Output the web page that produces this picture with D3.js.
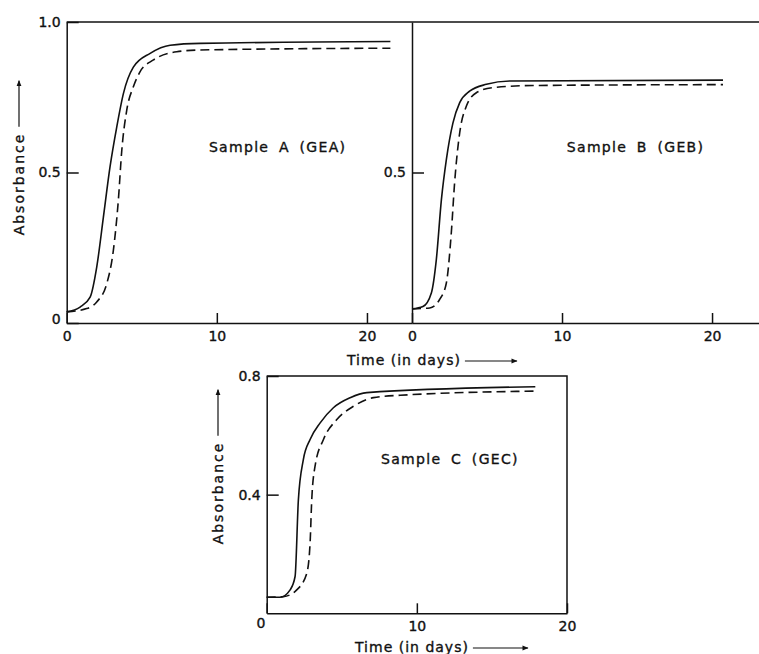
<!DOCTYPE html>
<html>
<head>
<meta charset="utf-8">
<script src="https://cdn.jsdelivr.net/npm/d3@7"></script>
<style>
  body { margin: 0; background: #fff; }
  text { font-family: "DejaVu Sans", sans-serif; fill: #111; stroke: #111; stroke-width: 0.35px; }
</style>
</head>
<body>
<div id="chart"></div>
<script>
// Sample A (GEA)
var timeA_solid = [0, 0.89, 1.56, 2.0, 2.44, 2.89, 3.33, 3.78, 4.44, 5.56, 6.89, 8.89, 21.56];
var absA_solid  = [0.037, 0.053, 0.086, 0.186, 0.35, 0.52, 0.65, 0.763, 0.85, 0.896, 0.923, 0.929, 0.935];
var timeA_dash  = [0, 1.33, 2.0, 2.67, 3.11, 3.44, 3.67, 4.0, 4.44, 4.89, 5.78, 7.33, 8.89, 21.56];
var absA_dash   = [0.037, 0.048, 0.07, 0.131, 0.242, 0.408, 0.574, 0.707, 0.785, 0.835, 0.874, 0.901, 0.907, 0.913];

// Sample B (GEB)
var timeB_solid = [0, 0.73, 1.29, 1.62, 1.96, 2.29, 2.73, 3.18, 3.84, 4.96, 6.51, 20.73];
var absB_solid  = [0.047, 0.055, 0.1, 0.21, 0.41, 0.543, 0.665, 0.732, 0.77, 0.793, 0.804, 0.807];
var timeB_dash  = [0, 1.18, 1.84, 2.29, 2.62, 2.84, 3.18, 3.62, 4.29, 5.4, 8.07, 20.73];
var absB_dash   = [0.047, 0.05, 0.078, 0.133, 0.3, 0.466, 0.632, 0.72, 0.765, 0.782, 0.789, 0.792];

// Sample C (GEC)
var timeC_solid = [0, 0.89, 1.56, 1.89, 2.11, 2.44, 2.89, 3.56, 4.44, 5.56, 6.67, 17.89];
var absC_solid  = [0.054, 0.054, 0.079, 0.124, 0.383, 0.518, 0.586, 0.642, 0.693, 0.727, 0.744, 0.764];
var timeC_dash  = [0, 1.11, 2.0, 2.67, 2.89, 3.0, 3.22, 3.78, 4.67, 5.78, 7.11, 8.89, 17.89];
var absC_dash   = [0.054, 0.056, 0.079, 0.135, 0.237, 0.383, 0.496, 0.586, 0.653, 0.698, 0.727, 0.735, 0.749];

var xTicks = [0, 10, 20];
var yTicksAB = [0, 0.5, 1.0];
var yTicksC = [0.4, 0.8];

var W = 759, H = 654;

var svg = d3.select("#chart")
    .append("svg")
    .attr("width", W)
    .attr("height", H);

var defs = svg.append("defs");
defs.append("marker")
    .attr("id", "arrow")
    .attr("viewBox", "0 0 10 10")
    .attr("refX", 9)
    .attr("refY", 5)
    .attr("markerWidth", 10)
    .attr("markerHeight", 6)
    .attr("markerUnits", "userSpaceOnUse")
    .attr("orient", "auto")
    .append("path")
    .attr("d", "M0,1 L10,5 L0,9 Z")
    .style("fill", "#111");

function zip(ts, vs) {
    return ts.map(function(t, i) { return [t, vs[i]]; });
}

function drawCurve(g, x, y, ts, vs, dashed) {
    var line = d3.line()
        .x(function(d) { return x(d[0]); })
        .y(function(d) { return y(d[1]); })
        .curve(d3.curveMonotoneX);
    g.append("path")
        .attr("d", line(zip(ts, vs)))
        .style("fill", "none")
        .style("stroke", "#111")
        .style("stroke-width", 1.6)
        .style("stroke-dasharray", dashed ? "9,5" : null);
}

function styleAxis(g) {
    g.selectAll("path, line")
        .style("stroke", "#111")
        .style("stroke-width", 1.5);
    g.selectAll("text")
        .style("font-family", "DejaVu Sans")
        .style("font-size", "14px")
        .style("fill", "#111");
}

function fmtY(d) {
    return d == 0 ? "0" : d3.format(".1f")(d);
}
function fmtX(d) {
    return d3.format("d")(d);
}

var xA = d3.scaleLinear().domain([0, 23]).range([66.7, 412]);
var yAB = d3.scaleLinear().domain([0, 1]).range([323, 22]);
var xB = d3.scaleLinear().domain([0, 23.13]).range([412, 759]);
var xC = d3.scaleLinear().domain([0, 20]).range([266.7, 567]);
var yC = d3.scaleLinear().domain([0, 0.8]).range([613.3, 376]);

// ---- panel A ----
var gA = svg.append("g");
gA.append("g")
    .attr("transform", "translate(0," + yAB(0) + ")")
    .call(d3.axisBottom(xA).tickValues(xTicks).tickSize(-10).tickSizeOuter(0).tickPadding(8).tickFormat(fmtX))
    .call(styleAxis);
gA.append("g")
    .attr("transform", "translate(" + xA(0) + ",0)")
    .call(d3.axisLeft(yAB).tickValues(yTicksAB).tickSize(-12).tickSizeOuter(0).tickPadding(6).tickFormat(fmtY))
    .call(styleAxis)
    .selectAll(".tick text")
    .attr("dy", function(d) { return d == 0 ? "0.05em" : "0.32em"; });

// ---- panel B ----
var gB = svg.append("g");
gB.append("g")
    .attr("transform", "translate(0," + yAB(0) + ")")
    .call(d3.axisBottom(xB).tickValues(xTicks).tickSize(-10).tickSizeOuter(0).tickPadding(8).tickFormat(fmtX))
    .call(styleAxis);
gB.append("g")
    .attr("transform", "translate(" + xB(0) + ",0)")
    .call(d3.axisLeft(yAB).tickValues([0.5]).tickSize(-12).tickSizeOuter(0).tickPadding(6).tickFormat(fmtY))
    .call(styleAxis);

// top frame across A and B
svg.append("line")
    .attr("x1", xA(0)).attr("x2", W)
    .attr("y1", yAB(1)).attr("y2", yAB(1))
    .style("stroke", "#111").style("stroke-width", 1.5);

drawCurve(gA, xA, yAB, timeA_solid, absA_solid, false);
drawCurve(gA, xA, yAB, timeA_dash, absA_dash, true);
drawCurve(gB, xB, yAB, timeB_solid, absB_solid, false);
drawCurve(gB, xB, yAB, timeB_dash, absB_dash, true);

// ---- panel C ----
var gC = svg.append("g");
gC.append("g")
    .attr("transform", "translate(0," + yC(0) + ")")
    .call(d3.axisBottom(xC).tickValues(xTicks).tickSize(-10).tickSizeOuter(0).tickPadding(8).tickFormat(fmtX))
    .call(styleAxis)
    .selectAll(".tick text")
    .attr("dx", function(d) { return d == 0 ? "-0.45em" : 0; })
    .attr("dy", function(d) { return d == 0 ? "0.45em" : "0.71em"; });
gC.append("g")
    .attr("transform", "translate(" + xC(0) + ",0)")
    .call(d3.axisLeft(yC).tickValues(yTicksC).tickSize(-12).tickSizeOuter(0).tickPadding(6).tickFormat(fmtY))
    .call(styleAxis);

// frame top and right of C
gC.append("path")
    .attr("d", "M" + xC(0) + "," + yC(0.8) + "H" + xC(20) + "V" + yC(0))
    .style("fill", "none").style("stroke", "#111").style("stroke-width", 1.5);

drawCurve(gC, xC, yC, timeC_solid, absC_solid, false);
drawCurve(gC, xC, yC, timeC_dash, absC_dash, true);

// sample labels
function label(x, y, txt) {
    svg.append("text")
        .attr("x", x).attr("y", y)
        .attr("text-anchor", "middle")
        .style("font-size", "14px")
        .style("letter-spacing", "1.3px")
        .style("word-spacing", "4px")
        .text(txt);
}
label(xA(14.05), yAB(0.568), "Sample A (GEA)");
label(xB(14.9), yAB(0.568), "Sample B (GEB)");
label(xC(12.2), yC(0.505), "Sample C (GEC)");

// axis titles with arrows
function xTitle(x, y, arrowLen) {
    var t = svg.append("text")
        .attr("x", x).attr("y", y)
        .style("font-size", "14px")
        .style("letter-spacing", "1px")
        .text("Time (in days)");
    var end = x + t.node().getComputedTextLength();
    svg.append("line")
        .attr("x1", end + 4).attr("x2", end + 4 + arrowLen)
        .attr("y1", y - 4).attr("y2", y - 4)
        .style("stroke", "#111").style("stroke-width", 1.2)
        .attr("marker-end", "url(#arrow)");
}
xTitle(347, 365, 52);
xTitle(355, 652, 55);

function yTitle(x, yc) {
    var t = svg.append("text")
        .attr("transform", "translate(" + x + "," + yc + ") rotate(-90)")
        .attr("text-anchor", "middle")
        .style("font-size", "14px")
        .style("letter-spacing", "2px")
        .text("Absorbance");
    var half = t.node().getComputedTextLength() / 2;
    svg.append("line")
        .attr("x1", x - 5).attr("x2", x - 5)
        .attr("y1", yc - half - 6).attr("y2", yc - half - 52)
        .style("stroke", "#111").style("stroke-width", 1.2)
        .attr("marker-end", "url(#arrow)");
}
yTitle(24, 184);
yTitle(223, 493);
</script>
</body>
</html>
